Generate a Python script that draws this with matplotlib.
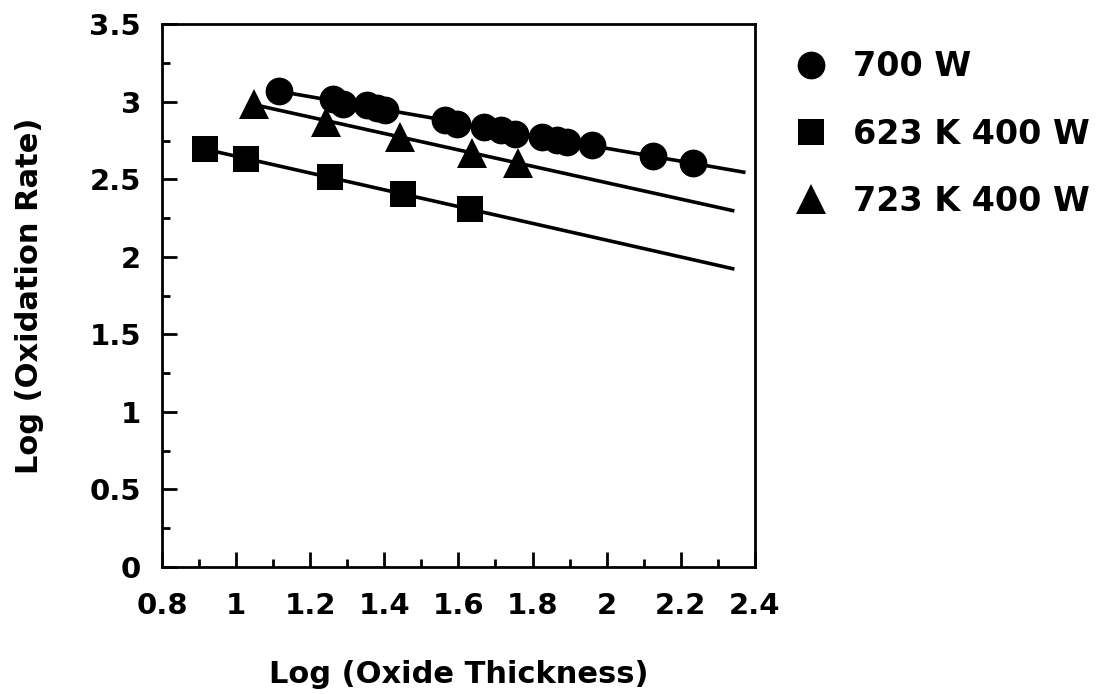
import numpy as np
import matplotlib
matplotlib.use("Agg")
import matplotlib.pyplot as plt
from matplotlib.ticker import MultipleLocator

plt.rcParams['font.family'] = ['DejaVu Sans']
plt.rcParams['font.weight'] = 'bold'

# 700 W
x_700 = [1.117, 1.262, 1.289, 1.353, 1.380, 1.403, 1.565, 1.596, 1.668, 1.714,
         1.754, 1.826, 1.867, 1.894, 1.961, 2.124, 2.232]
y_700 = [3.069, 3.017, 2.983, 2.979, 2.961, 2.946, 2.882, 2.860, 2.839, 2.817,
         2.795, 2.774, 2.753, 2.742, 2.721, 2.650, 2.608]
# 623 K 400 W
x_623 = [0.916, 1.026, 1.254, 1.451, 1.630]
y_623 = [2.695, 2.634, 2.512, 2.405, 2.308]
# 723 K 400 W
x_723 = [1.049, 1.244, 1.443, 1.636, 1.760]
y_723 = [2.985, 2.871, 2.776, 2.673, 2.604]

# end of each fitted line
x_end = [2.37, 2.34, 2.34]

labels = ['700 W', '623 K 400 W', '723 K 400 W']

fig = plt.figure(figsize=(10.98, 6.94), dpi=100)
ax = fig.add_axes([0.1475, 0.183, 0.540, 0.782])

series = [(x_700, y_700, 'o', 20), (x_623, y_623, 's', 19), (x_723, y_723, '^', 22)]
for (xs, ys, mk, ms), xe, lab in zip(series, x_end, labels):
    # fitted straight line
    coef = np.polyfit(xs, ys, 1)
    pol = np.poly1d(coef)
    xl = np.array([min(xs), xe])
    ax.plot(xl, pol(xl), '-', color='black', lw=2.6, zorder=2)
    ax.plot(xs, ys, linestyle='none', marker=mk, ms=ms, color='black',
            markeredgewidth=0, label=lab, zorder=3)

ax.set_xlim(0.8, 2.4)
ax.set_ylim(0, 3.5)
ax.xaxis.set_minor_locator(MultipleLocator(0.1))
ax.yaxis.set_minor_locator(MultipleLocator(0.25))
ax.set_xticks(np.arange(0.8, 2.41, 0.2))
ax.set_xticklabels(['0.8', '1', '1.2', '1.4', '1.6', '1.8', '2', '2.2', '2.4'])
ax.set_yticks(np.arange(0, 3.51, 0.5))
ax.set_yticklabels(['0', '0.5', '1', '1.5', '2', '2.5', '3', '3.5'])

ax.tick_params(which='major', direction='in', length=11, width=2, labelsize=21)
ax.tick_params(which='minor', direction='in', length=6, width=2)
ax.tick_params(axis='x', pad=18)
ax.tick_params(axis='y', pad=15)
ax.tick_params(top=False, right=False)
for s in ax.spines.values():
    s.set_linewidth(2)

ax.set_xlabel('Log (Oxide Thickness)', fontsize=22, fontweight='bold', labelpad=29)
ax.set_ylabel('Log (Oxidation Rate)', fontsize=22, fontweight='bold', labelpad=33)

leg = ax.legend(loc='upper left', bbox_to_anchor=(1.03, 0.995), frameon=False,
                fontsize=24, numpoints=1, handlelength=0.9, handletextpad=0.8,
                labelspacing=1.03, borderaxespad=0.3)
for t in leg.get_texts():
    t.set_fontweight('bold')

fig.savefig('out.png', dpi=100)
